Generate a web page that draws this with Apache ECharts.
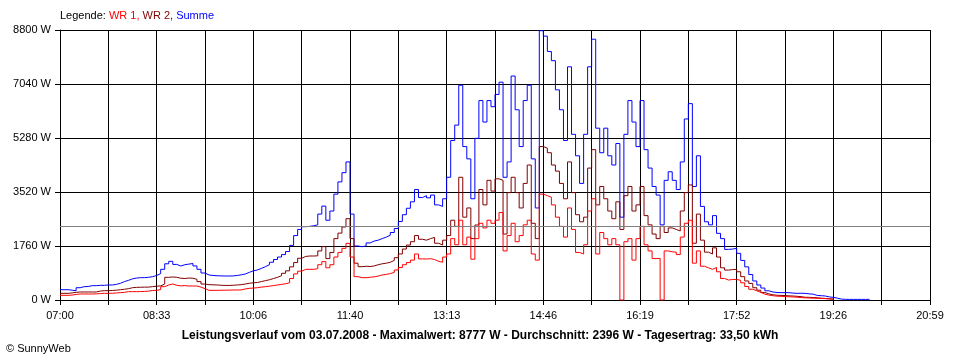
<!DOCTYPE html>
<html>
<head>
<meta charset="utf-8">
<script src="https://cdn.jsdelivr.net/npm/echarts@6/dist/echarts.min.js"></script>
<style>
html,body{margin:0;padding:0;background:#fff;}
#chart{width:960px;height:360px;}
</style>
</head>
<body>
<div id="chart"></div>
<script>
// Time axis: tick labels (a label on every second gridline), 18 gridline intervals 07:00..20:59
const tickLabels = ['07:00','08:33','10:06','11:40','13:13','14:46','16:19','17:52','19:26','20:59'];
const gridIntervals = 18;
const samplesPerInterval = 12;   // readings sampled 12 per gridline interval (~3.9 min)

const yTicks = [0, 1760, 3520, 5280, 7040, 8800];
const averageW = 2396;

const legendText = ['Legende: ', 'WR 1, ', 'WR 2, ', 'Summe'];
const footerText = 'Leistungsverlauf vom 03.07.2008 - Maximalwert: 8777 W - Durchschnitt: 2396 W - Tagesertrag: 33,50 kWh';
const copyrightText = '\u00A9 SunnyWeb';

// WR 1 (red) in W
const wr1 = [152,152,160,180,196,196,196,196,200,210,217,217,220,230,239,250,272,272,272,275,
280,290,310,315,340,434,490,521,480,460,470,456,456,456,420,370,315,315,315,318,
320,322,326,326,330,360,380,390,400,420,434,450,470,489,510,530,560,700,850,940,
1000,1000,1000,1020,1150,1250,1050,1150,1400,1550,1684,1847,1400,760,728,728,740,755,780,815,
835,860,900,978,1060,1150,1220,1300,1500,1340,1336,1345,1320,1260,1230,1400,1500,2000,1800,2600,
1800,2050,1330,2000,2500,2350,2600,2500,2600,2850,1600,2100,2500,1900,2100,2450,2600,1500,1300,3450,
3400,3350,3100,2700,2400,2050,3000,2300,1550,1500,1800,2900,3300,1500,2200,2000,1800,2000,1800,0,
1900,2000,1300,2000,2400,1800,1600,1350,1358,0,1600,1570,1560,1480,2050,2500,2600,1200,1600,1100,
1050,1000,1060,920,700,650,670,670,640,560,440,350,300,250,190,160,140,125,120,112,
105,100,90,80,70,65,60,55,50,45,35,25,10];

// WR 2 (dark red) in W
const wr2 = [217,217,230,250,261,261,261,261,261,290,304,304,310,320,336,350,369,400,413,415,
420,420,435,450,460,520,739,750,740,710,700,717,710,674,600,520,500,495,490,480,
475,475,480,490,500,520,545,560,570,600,630,660,700,740,790,870,950,1080,1220,1360,
1420,1434,1434,1440,1600,1740,1350,1550,2000,2180,2380,2650,2000,1200,1086,1100,1090,1110,1150,1180,
1200,1230,1290,1380,1500,1660,1790,1900,2100,1980,1950,2000,2040,1850,1793,1950,2100,2600,2400,4000,
2700,3000,2000,2444,3600,3100,3900,3550,3950,3900,2150,3500,4000,3500,3000,3800,4400,2500,2000,5000,
4950,4800,4400,4200,3800,3300,4500,3500,2780,2550,2700,4300,4900,3100,3700,3300,2900,2650,3200,2300,
3400,3700,2900,3100,3700,2750,2450,2150,2000,2400,2200,2350,2300,2250,2900,3500,3750,1850,2800,1950,
1560,1500,1700,1400,1050,975,990,1000,920,760,620,540,400,320,245,200,170,155,150,145,
135,130,120,110,90,87,80,75,60,50,40,30,15];

// Summe (blue) in W
const summe = [336,336,320,300,400,434,440,467,467,478,478,489,489,510,543,600,640,690,715,728,
728,740,760,800,860,1000,1180,1260,1160,1108,1150,1170,1190,1110,1000,880,815,800,790,785,
782,782,785,800,820,847,900,950,978,1030,1086,1150,1230,1320,1400,1480,1580,1780,2100,2300,
2390,2400,2420,2450,2800,3060,2600,2900,3450,3850,4150,4500,2800,1760,1738,1760,1860,1920,1950,2000,
2050,2110,2200,2330,2560,2780,2990,3200,3600,3340,3400,3330,3420,3100,3050,3300,4000,5200,5700,7000,
5000,4600,3300,5269,6500,5800,6500,6300,6700,7100,4000,4500,7300,6200,5000,6500,7000,4600,3000,8777,
8600,8100,7800,6850,6200,5200,7600,5400,4700,3800,5400,7600,8500,5600,4800,5600,4700,4400,5100,2700,
5400,6500,5800,5000,6500,4900,4300,3700,3420,2450,3900,4180,3900,3600,4500,5900,6400,3700,4700,3050,
2550,2450,2750,2173,2000,1650,1660,1684,1521,1290,1080,830,620,489,390,300,261,245,239,239,
239,225,217,220,215,200,190,150,140,130,100,87,60,30,22,20,20,20,20,20,
20,20];

function toPoints(arr) {
  return arr.map(function (v, i) { return [i / samplesPerInterval, v]; });
}

const FONT = '"Liberation Sans", Arial, sans-serif';
const chart = echarts.init(document.getElementById('chart'), null, {renderer: 'canvas'});

function lineSeries(name, arr, color, extra) {
  return Object.assign({
    name: name,
    type: 'line',
    data: toPoints(arr),
    step: 'end',
    showSymbol: false,
    symbol: 'none',
    sampling: null,
    lineStyle: {color: color, width: 1},
    itemStyle: {color: color},
    animation: false,
    silent: true
  }, extra || {});
}

chart.setOption({
  animation: false,
  backgroundColor: '#ffffff',
  textStyle: {fontFamily: FONT},
  title: [
    {
      left: 60, top: 10,
      text: '{k|' + legendText[0] + '}{a|' + legendText[1] + '}{b|' + legendText[2] + '}{c|' + legendText[3] + '}',
      textStyle: {
        fontSize: 11, fontWeight: 'normal', fontFamily: FONT,
        rich: {
          k: {color: '#000000', fontSize: 11, fontFamily: FONT},
          a: {color: '#ff0000', fontSize: 11, fontFamily: FONT},
          b: {color: '#800000', fontSize: 11, fontFamily: FONT},
          c: {color: '#0000ff', fontSize: 11, fontFamily: FONT}
        }
      },
      padding: 0
    },
    {
      left: 'center', top: 330,
      text: footerText,
      textStyle: {fontSize: 12, fontWeight: 'bold', color: '#000', fontFamily: FONT},
      padding: 0
    },
    {
      left: 6, top: 343,
      text: copyrightText,
      textStyle: {fontSize: 11, fontWeight: 'normal', color: '#000', fontFamily: FONT},
      padding: 0
    }
  ],
  grid: {left: 60, right: 30, top: 30, bottom: 60, containLabel: false},
  xAxis: {
    type: 'value',
    min: 0, max: gridIntervals, interval: 1,
    axisLine: {show: true, lineStyle: {color: '#000', width: 1}},
    axisTick: {show: true, length: 5, lineStyle: {color: '#000'}},
    splitLine: {show: true, lineStyle: {color: '#000', width: 1}},
    axisLabel: {
      margin: 10, color: '#000', fontSize: 11, fontFamily: FONT,
      formatter: function (v) {
        var idx = Math.round(v);
        return idx % 2 === 0 ? tickLabels[idx / 2] : '';
      }
    }
  },
  yAxis: {
    type: 'value',
    min: yTicks[0], max: yTicks[yTicks.length - 1], interval: yTicks[1] - yTicks[0],
    axisLine: {show: true, lineStyle: {color: '#000', width: 1}},
    axisTick: {show: true, length: 5, lineStyle: {color: '#000'}},
    splitLine: {show: true, lineStyle: {color: '#000', width: 1}},
    axisLabel: {
      margin: 9, color: '#000', fontSize: 11, fontFamily: FONT,
      formatter: function (v) { return String(v) + ' W'; }
    }
  },
  series: [
    lineSeries('Summe', summe, '#0000ff', {
      markLine: {
        silent: true, symbol: 'none', animation: false,
        label: {show: false},
        lineStyle: {color: '#808080', width: 1, type: 'solid'},
        data: [{yAxis: averageW}]
      }
    }),
    lineSeries('WR 2', wr2, '#800000'),
    lineSeries('WR 1', wr1, '#ff0000')
  ]
});
</script>
</body>
</html>
